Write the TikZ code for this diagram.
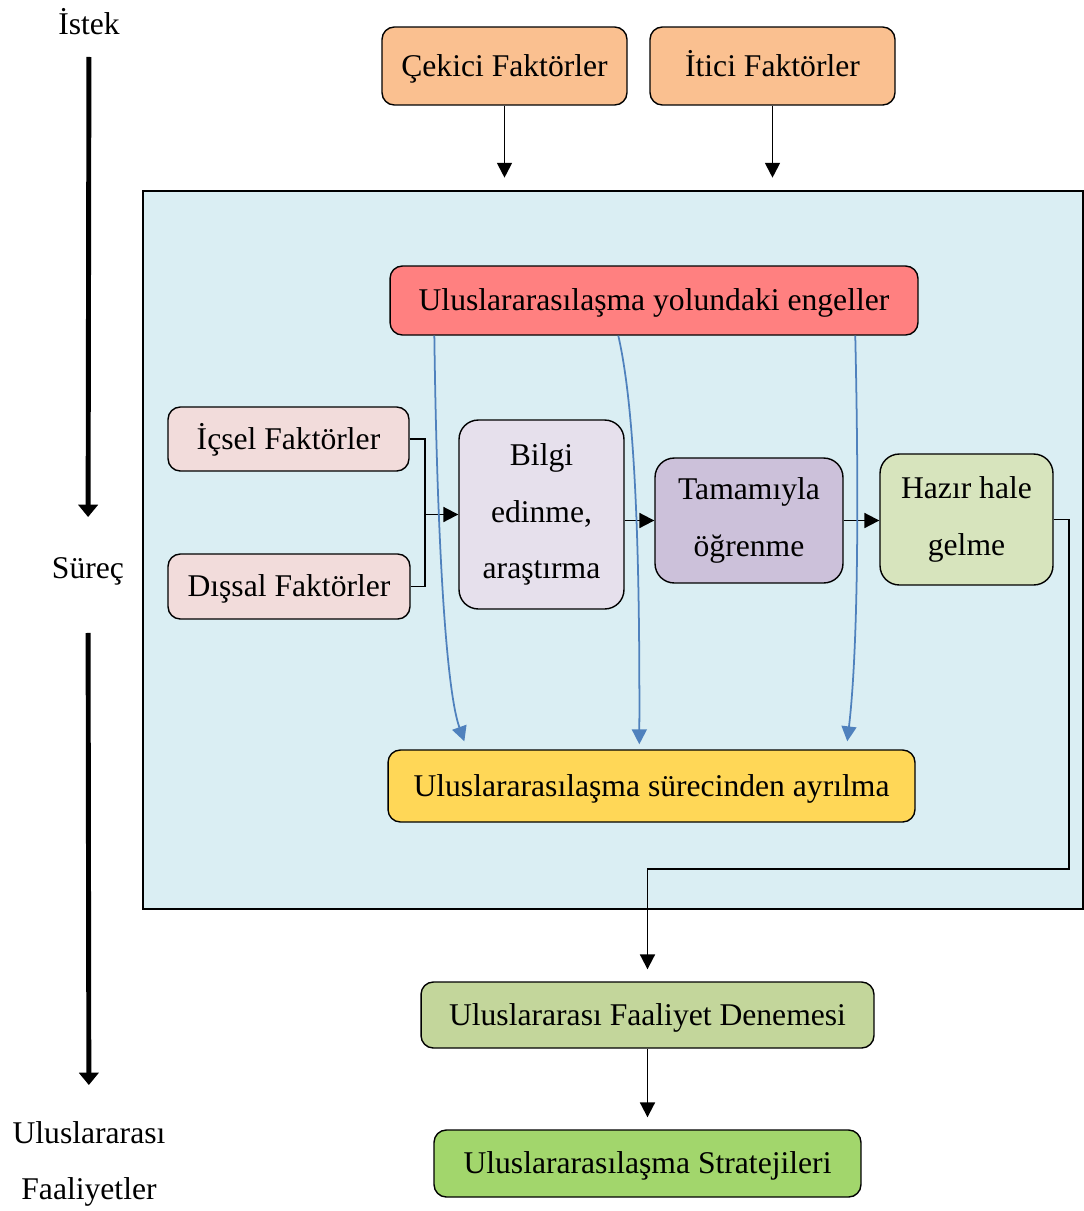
\documentclass[tikz,border=0pt]{standalone}
\usepackage{fontspec}
\setmainfont{Liberation Serif}
\usepackage{xcolor}
\usepackage{tikz}
\usetikzlibrary{arrows.meta,positioning,calc}

\definecolor{pullorange}{HTML}{FAC090}
\definecolor{barrierred}{HTML}{FF8080}
\definecolor{factorpink}{HTML}{F2DCDB}
\definecolor{infolilac}{HTML}{E6E0EC}
\definecolor{learnpurple}{HTML}{CCC1DA}
\definecolor{readygreen}{HTML}{D7E4BD}
\definecolor{exitgold}{HTML}{FFD757}
\definecolor{trialgreen}{HTML}{C3D69B}
\definecolor{stratgreen}{HTML}{A2D66C}
\definecolor{panelblue}{HTML}{DAEEF3}
\definecolor{curveblue}{HTML}{4F81BD}

\begin{document}
\begin{tikzpicture}[
    x=0.02cm, y=-0.02cm,
    node distance=1.5cm,
    font=\fontsize{18pt}{32pt}\selectfont,
    box/.style={rectangle, draw, line width=0.8pt, rounded corners=7pt, inner sep=0pt, align=center, text height=14pt, text depth=2.5pt},
    tallbox/.style={rectangle, draw, line width=0.8pt, rounded corners=11pt, inner sep=0pt, align=center},
    label/.style={align=center, inner sep=0pt},
    edge/.style={-{Triangle[width=8.5pt,length=8.5pt]}, line width=1.1pt},
    link/.style={line width=1.1pt},
    dropedge/.style={-{Triangle[width=8.5pt,length=8.5pt]}, line width=1pt, curveblue},
    bigedge/.style={-{Triangle[width=11pt,length=7pt]}, line width=2.8pt}
]
    \useasboundingbox (0,0) rectangle (1084,1211);

    % process panel
    \draw[line width=1.1pt, fill=panelblue] (143,191) rectangle (1083,909);

    % stage labels on the left
    \node[label] (istek) at (89,22) {İstek};
    \node[label] (surec) at (88,571) {Süreç};
    \node[label] (faal) at (89,1164) {Uluslararası\\Faaliyetler};
    \draw[bigedge, shorten <=0.7cm, shorten >=1.08cm] (istek.center) -- (surec.center);
    \draw[bigedge, shorten <=1.24cm, shorten >=1.58cm] (surec.center) -- (faal.center);

    % push / pull factors
    \node[box, fill=pullorange, minimum width=4.9cm, minimum height=1.56cm] (cekici) at (504.5,66) {Çekici Faktörler};
    \node[box, fill=pullorange, minimum width=4.9cm, minimum height=1.56cm] (itici) at (772.5,66) {İtici Faktörler};
    \draw[edge] (cekici.south) -- ++(0,72);
    \draw[edge] (itici.south) -- ++(0,72);

    % inside the panel
    \node[box, fill=barrierred, minimum width=10.56cm, minimum height=1.38cm] (engel) at (654,300.5) {Uluslararasılaşma yolundaki engeller};
    \node[box, fill=factorpink, minimum width=4.82cm, minimum height=1.28cm] (icsel) at (288.5,439) {İçsel Faktörler};
    \node[box, fill=factorpink, minimum width=4.84cm, minimum height=1.3cm] (dissal) at (289,586.5) {Dışsal Faktörler};
    \node[tallbox, fill=infolilac, minimum width=3.3cm, minimum height=3.78cm] (bilgi) at (541.5,514.5) {Bilgi\\edinme,\\araştırma};
    \node[tallbox, fill=learnpurple, minimum width=3.76cm, minimum height=2.5cm] (tamam) at (749,520.5) {Tamamıyla\\öğrenme};
    \node[tallbox, fill=readygreen, minimum width=3.46cm, minimum height=2.62cm] (hazir) at (966.5,519.5) {Hazır hale\\gelme};
    \node[box, fill=exitgold, minimum width=10.54cm, minimum height=1.44cm] (ayril) at (651.5,786) {Uluslararasılaşma sürecinden ayrılma};

    % below the panel
    \node[box, fill=trialgreen, minimum width=9.06cm, minimum height=1.32cm] (deneme) at (647.5,1015) {Uluslararası Faaliyet Denemesi};
    \node[box, fill=stratgreen, minimum width=8.54cm, minimum height=1.34cm] (strateji) at (647.5,1163.5) {Uluslararasılaşma Stratejileri};

    % factors into learning chain
    \coordinate (join) at (425,514.5);
    \draw[link] (icsel.east) -| (join);
    \draw[link] (dissal.east) -| (join);
    \draw[edge] (join) -- (bilgi.west);
    \draw[edge] (tamam.west -| bilgi.east) -- (tamam.west);
    \draw[edge] (tamam.east) -- (hazir.west |- tamam.east);

    % barriers lead to leaving the process
    \draw[dropedge] ([xshift=0.9cm]engel.south west) .. controls (437,540) and (446,690) .. ([xshift=1.54cm,yshift=0.16cm]ayril.north west);
    \draw[dropedge] ([xshift=4.58cm]engel.south west) .. controls (633,400) and (640,520) .. ([xshift=5.04cm,yshift=0.1cm]ayril.north west);
    \draw[dropedge] ([xshift=9.32cm]engel.south west) .. controls (859,500) and (858,650) .. ([xshift=9.2cm,yshift=0.16cm]ayril.north west);

    % ready -> trial -> strategies
    \coordinate (bend) at (1069,869);
    \draw[edge] (hazir.east) -| (bend) -- (bend -| deneme.north) -- ([yshift=0.24cm]deneme.north);
    \draw[edge] (deneme.south) -- ([yshift=0.24cm]strateji.north);
\end{tikzpicture}
\end{document}
